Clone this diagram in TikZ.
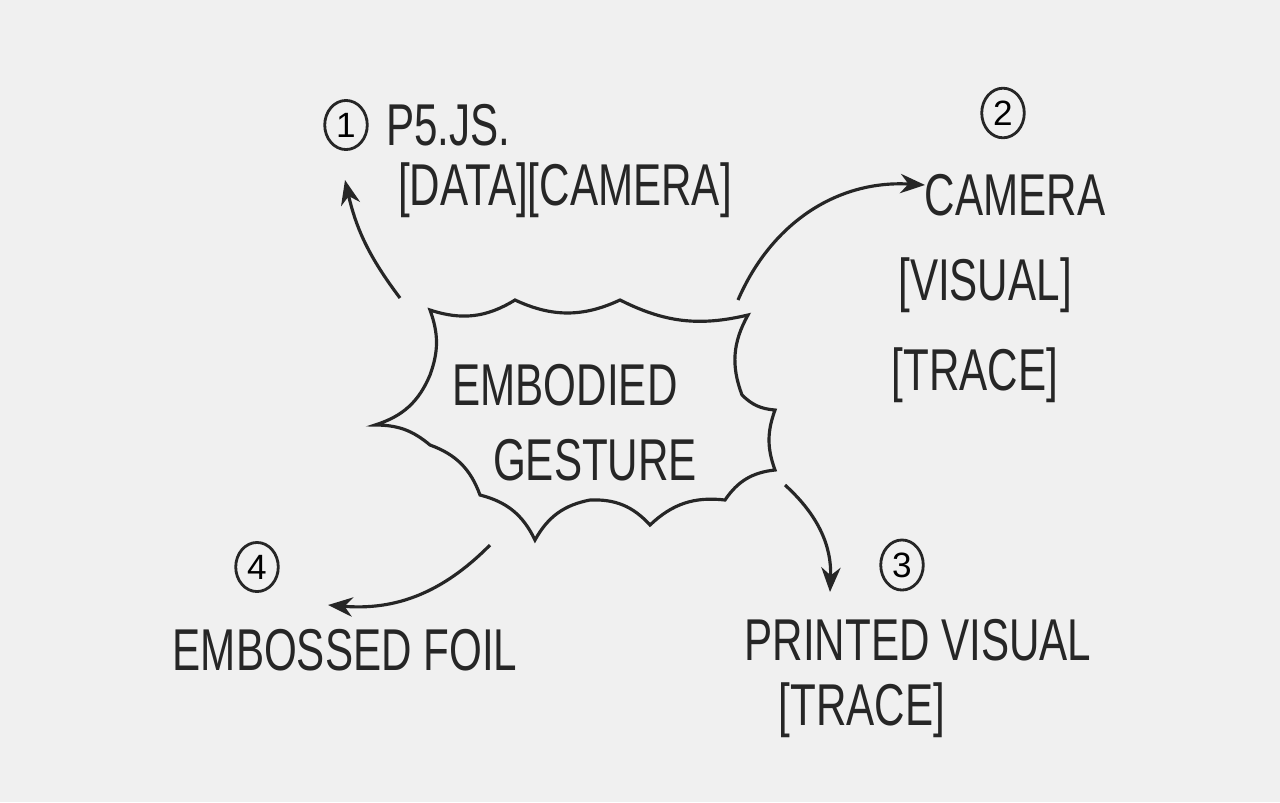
\documentclass[tikz,border=0pt]{standalone}
\usepackage{fontspec}
\setmainfont{Liberation Sans}
\usetikzlibrary{arrows.meta}

\begin{document}
\begin{tikzpicture}[x=0.02cm, y=-0.02cm,
	ink/.style={line width=1.8pt, color=black!85},
	hand/.style={font=\fontsize{24}{28}\selectfont, text=black!85, yscale=1.4},
	numcirc/.style={draw=black!85, line width=1.6pt, ellipse, inner sep=3pt, font=\fontsize{20}{22}\selectfont},
	link/.style={ink, -{Stealth[length=14pt, width=11pt]}}]
	\usetikzlibrary{shapes.geometric}

	% page
	\fill[gray!12] (0,0) rectangle (1280,802);

	% starburst
	\draw[ink] (430,310) to[bend right=25] (515,300) to[bend right=25] (620,300)
		to[bend right=20] (748,315) to[bend right=25] (742,395) to[bend right=20] (775,410)
		to[bend right=20] (775,470) to[bend right=25] (725,500) to[bend right=25] (650,525)
		to[bend right=25] (590,500) to[bend right=25] (535,540) to[bend right=25] (480,495)
		to[bend right=25] (430,445) to[bend right=20] (375,425) to[bend right=25] (430,375)
		to[bend right=20] cycle;

	% centre text
	\node[hand] (embodied) at (565,385) {EMBODIED};
	\node[hand] (gesture) at (595,460) {GESTURE};

	% branch 1
	\node[numcirc] (n1) at (346,125) {1};
	\node[hand, anchor=west] (p5) at (380,125) {P5.JS.};
	\node[hand] (datacam) at (565,190) {[DATA][CAMERA]};

	% branch 2
	\node[numcirc] (n2) at (1003,113) {2};
	\node[hand] (camera) at (1015,195) {CAMERA};
	\node[hand] (visual) at (985,285) {[VISUAL]};
	\node[hand] (trace1) at (975,375) {[TRACE]};

	% branch 3
	\node[numcirc] (n3) at (902,565) {3};
	\node[hand] (printed) at (918,640) {PRINTED VISUAL};
	\node[hand] (trace2) at (862,710) {[TRACE]};

	% branch 4
	\node[numcirc] (n4) at (257,567) {4};
	\node[hand] (foil) at (345,650) {EMBOSSED FOIL};

	% arrows
	\coordinate (s1) at (400,298); \coordinate (e1) at (345,180);
	\coordinate (s2) at (738,300); \coordinate (e2) at (925,185);
	\coordinate (s3) at (785,485); \coordinate (e3) at (830,592);
	\coordinate (s4) at (490,545); \coordinate (e4) at (328,605);
	\draw[link] (s1) to[bend left=12] (e1);
	\draw[link] (s2) to[bend left=35] (e2);
	\draw[link] (s3) to[bend left=25] (e3);
	\draw[link] (s4) to[bend left=25] (e4);
\end{tikzpicture}
\end{document}
